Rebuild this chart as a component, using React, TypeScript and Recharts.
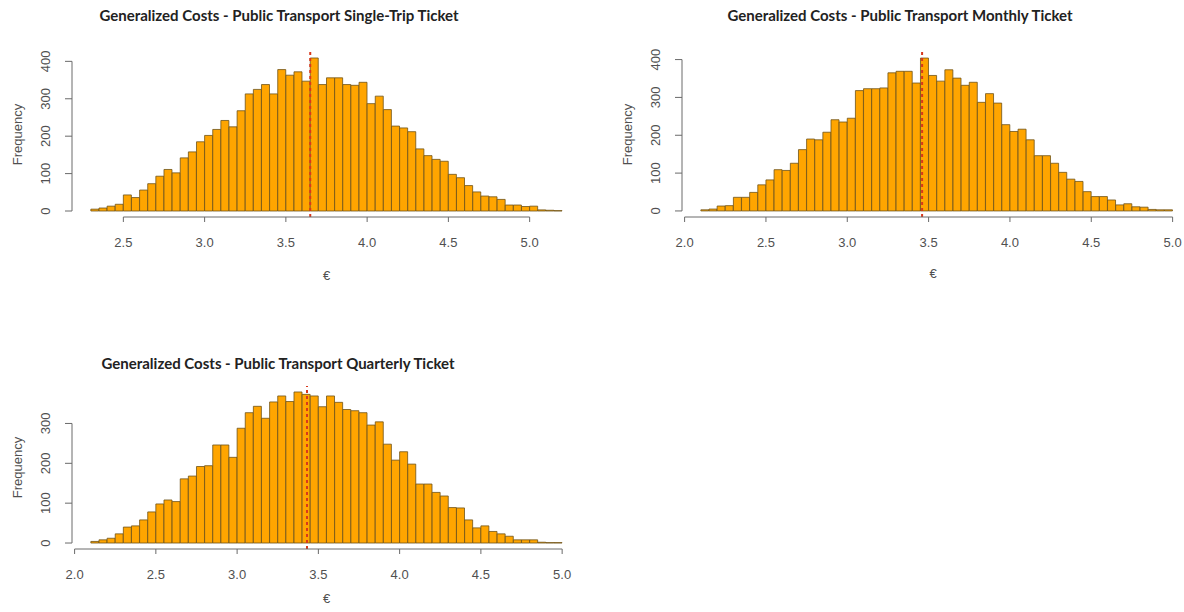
import React from 'react';
import { ComposedChart, Bar, XAxis, YAxis, ReferenceLine } from 'recharts';

// Histogram bin width shared by all three distributions (€)
const BIN_WIDTH = 0.05;

// Single-trip ticket: bins start at 2.30 €
const singleTripStart = 2.3;
const singleTripCounts = [
  5, 8, 13, 18, 43, 36, 56, 73, 93, 111, 102, 142, 158, 185,
  202, 218, 242, 225, 268, 313, 325, 338, 313, 378, 363, 372, 347, 409, 338, 356,
  356, 338, 336, 344, 287, 307, 271, 227, 222, 212, 166, 148, 138, 133, 98, 89,
  68, 51, 40, 38, 31, 16, 16, 12, 13, 3, 2, 1,
];
const singleTripMean = 3.65;

// Monthly ticket: bins start at 2.10 €
const monthlyStart = 2.1;
const monthlyCounts = [
  3, 5, 13, 14, 36, 36, 49, 69, 82, 109, 107, 126, 162, 190, 188, 208, 241, 235,
  245, 318, 323, 323, 325, 365, 369, 369, 338, 404, 358, 343, 373, 351, 332, 340,
  287, 310, 285, 228, 210, 216, 188, 146, 146, 126, 102, 84, 78, 51, 38, 38,
  29, 16, 19, 11, 10, 4, 3, 3,
];
const monthlyMean = 3.46;

// Quarterly ticket: bins start at 2.10 €
const quarterlyStart = 2.1;
const quarterlyCounts = [
  4, 8, 12, 23, 40, 43, 58, 78, 98, 108, 104, 161, 168, 192, 194, 246, 246, 215,
  288, 327, 343, 313, 354, 369, 355, 379, 373, 369, 342, 369, 353, 335, 332, 327,
  296, 304, 248, 208, 229, 198, 148, 148, 127, 118, 89, 88, 58, 38, 43, 29,
  23, 17, 8, 8, 8, 2, 1, 1,
];
const quarterlyMean = 3.43;

// Axis ticks
const xTicksSingle = [2.5, 3.0, 3.5, 4.0, 4.5, 5.0];
const xTicksWide = [2.0, 2.5, 3.0, 3.5, 4.0, 4.5, 5.0];
const yTicks400 = [0, 100, 200, 300, 400];
const yTicks300 = [0, 100, 200, 300];

const toRows = (start: number, counts: number[]) =>
  counts.map((count, i) => ({
    mid: Number((start + (i + 0.5) * BIN_WIDTH).toFixed(4)),
    count,
  }));

const AXIS_COLOR = '#6a6a6a';
const TEXT_COLOR = '#505050';
const LABEL_FONT = '"Liberation Sans", Arial, sans-serif';

const RotatedTick = (props: any) => {
  const { x, y, payload } = props;
  return (
    <text
      x={x}
      y={y}
      transform={`rotate(-90 ${x} ${y})`}
      textAnchor="middle"
      dominantBaseline="central"
      fontSize={13}
      fontFamily={LABEL_FONT}
      fill={TEXT_COLOR}
    >
      {payload.value}
    </text>
  );
};

const yTitle = (props: any) => {
  const vb = props.viewBox || {};
  const x = vb.x + 5;
  const y = vb.y + vb.height / 2;
  return (
    <text
      x={x}
      y={y}
      transform={`rotate(-90 ${x} ${y})`}
      textAnchor="middle"
      dominantBaseline="central"
      fontSize={13}
      fontFamily={LABEL_FONT}
      fill={TEXT_COLOR}
    >
      Frequency
    </text>
  );
};

const xTitle = (dy: number) => (props: any) => {
  const vb = props.viewBox || {};
  return (
    <text
      x={vb.x + vb.width / 2}
      y={vb.y + dy}
      textAnchor="middle"
      dominantBaseline="central"
      fontSize={13}
      fontFamily={LABEL_FONT}
      fill={TEXT_COLOR}
    >
      €
    </text>
  );
};

type HistProps = {
  title: string;
  titleCenterX: number;
  titleCenterY: number;
  left: number;
  top: number;
  width: number;
  height: number;
  margin: { top: number; right: number; bottom: number; left: number };
  xAxisHeight: number;
  euroOffset: number;
  rows: { mid: number; count: number }[];
  mean: number;
  xDomain: [number, number];
  yDomain: [number, number];
  xTicks: number[];
  yTicks: number[];
};

const Histogram = (p: HistProps) => (
  <>
    <div
      style={{
        position: 'absolute',
        left: p.titleCenterX - 300,
        top: p.titleCenterY - 9,
        width: 600,
        lineHeight: '18px',
        textAlign: 'center',
        fontFamily: 'Lato, "Open Sans", sans-serif',
        fontWeight: 700,
        fontSize: 15,
        color: '#222222',
        whiteSpace: 'nowrap',
      }}
    >
      {p.title}
    </div>
    <div style={{ position: 'absolute', left: p.left, top: p.top }}>
      <ComposedChart
        width={p.width}
        height={p.height}
        data={p.rows}
        margin={p.margin}
        barCategoryGap={0}
        barGap={0}
      >
        <XAxis
          type="number"
          dataKey="mid"
          domain={p.xDomain}
          allowDataOverflow
          ticks={p.xTicks}
          interval={0}
          axisLine={false}
          tickLine={{ stroke: AXIS_COLOR }}
          tickSize={5}
          tickMargin={16}
          height={p.xAxisHeight}
          tickFormatter={(v: number) => v.toFixed(1)}
          tick={{ fontSize: 13, fill: TEXT_COLOR, fontFamily: LABEL_FONT }}
          label={xTitle(p.euroOffset)}
        />
        <YAxis
          type="number"
          domain={p.yDomain}
          allowDataOverflow
          ticks={p.yTicks}
          interval={0}
          width={60}
          axisLine={false}
          tickLine={{ stroke: AXIS_COLOR }}
          tickSize={7}
          tickMargin={19}
          tick={<RotatedTick />}
          label={yTitle}
        />
        <Bar
          dataKey="count"
          fill="#FFA500"
          stroke="#6e5318"
          strokeWidth={0.8}
          isAnimationActive={false}
        />
        <ReferenceLine
          x={p.mean}
          stroke="#d8381c"
          strokeWidth={2}
          strokeDasharray="3 3"
        />
        {/* R-style axis lines spanning only the first to last tick */}
        <ReferenceLine
          segment={[
            { x: p.xTicks[0], y: p.yDomain[0] },
            { x: p.xTicks[p.xTicks.length - 1], y: p.yDomain[0] },
          ]}
          stroke={AXIS_COLOR}
          strokeWidth={1}
        />
        <ReferenceLine
          segment={[
            { x: p.xDomain[0], y: p.yTicks[0] },
            { x: p.xDomain[0], y: p.yTicks[p.yTicks.length - 1] },
          ]}
          stroke={AXIS_COLOR}
          strokeWidth={1}
        />
      </ComposedChart>
    </div>
  </>
);

export default function App() {
  return (
    <div
      style={{
        position: 'absolute',
        left: 0,
        top: 0,
        width: 1184,
        height: 612,
        background: '#ffffff',
        overflow: 'hidden',
      }}
    >
      <Histogram
        title="Generalized Costs - Public Transport Single-Trip Ticket"
        titleCenterX={279}
        titleCenterY={15}
        left={0}
        top={0}
        width={600}
        height={300}
        margin={{ top: 52, right: 19, bottom: 13, left: 12 }}
        xAxisHeight={70}
        euroOffset={58}
        rows={toRows(singleTripStart, singleTripCounts)}
        mean={singleTripMean}
        xDomain={[2.184, 5.316]}
        yDomain={[-16, 425]}
        xTicks={xTicksSingle}
        yTicks={yTicks400}
      />
      <Histogram
        title="Generalized Costs - Public Transport Monthly Ticket"
        titleCenterX={900}
        titleCenterY={15}
        left={610}
        top={0}
        width={574}
        height={300}
        margin={{ top: 52, right: 0, bottom: 13, left: 12 }}
        xAxisHeight={70}
        euroOffset={56}
        rows={toRows(monthlyStart, monthlyCounts)}
        mean={monthlyMean}
        xDomain={[1.984, 5.07]}
        yDomain={[-16, 420]}
        xTicks={xTicksWide}
        yTicks={yTicks400}
      />
      <Histogram
        title="Generalized Costs - Public Transport Quarterly Ticket"
        titleCenterX={278}
        titleCenterY={363}
        left={0}
        top={330}
        width={600}
        height={280}
        margin={{ top: 56, right: 19, bottom: 1, left: 12 }}
        xAxisHeight={60}
        euroOffset={49}
        rows={toRows(quarterlyStart, quarterlyCounts)}
        mean={quarterlyMean}
        xDomain={[1.984, 5.116]}
        yDomain={[-15, 394]}
        xTicks={xTicksWide}
        yTicks={yTicks300}
      />
    </div>
  );
}
